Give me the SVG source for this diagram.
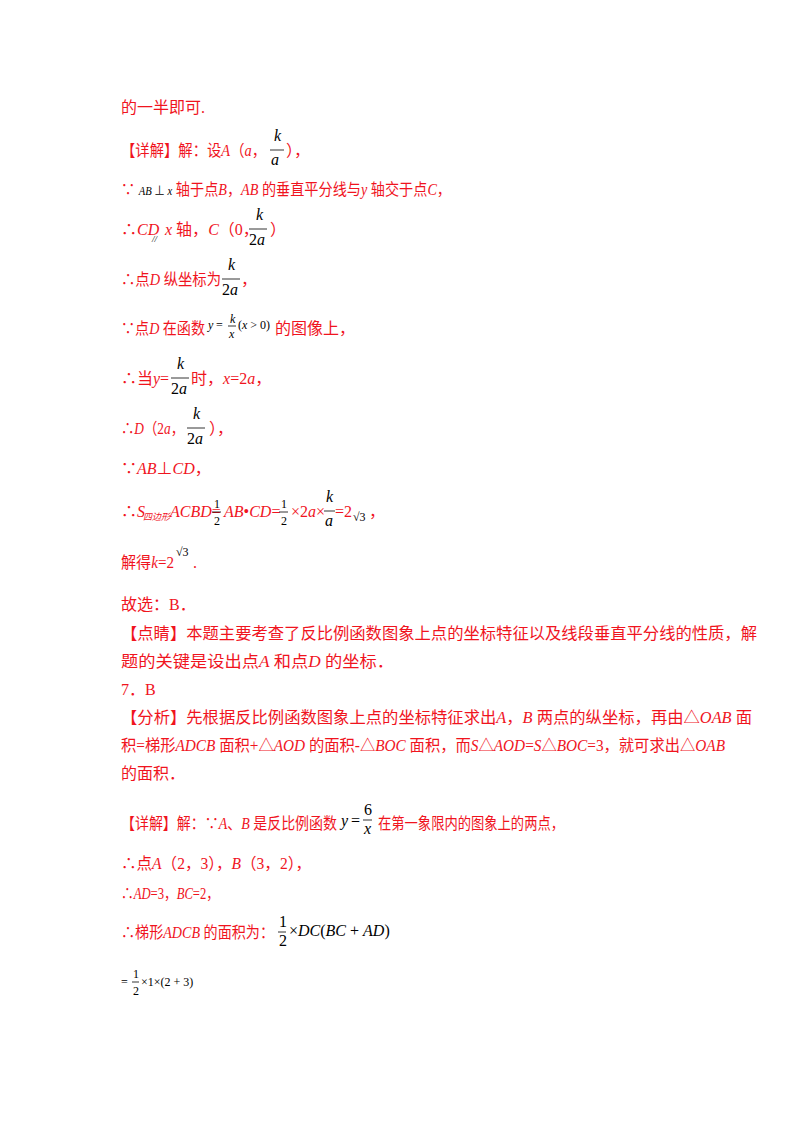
<svg xmlns="http://www.w3.org/2000/svg" width="800" height="1132" viewBox="0 0 800 1132">
<style>
text{font-family:"Liberation Serif","Noto Sans CJK SC",serif;font-size:16px}
.r{fill:#f0141e}
.k{fill:#000}
.i{font-style:italic}
.s{font-size:12px}
.xs{font-size:9px}
line{stroke:#000;stroke-width:0.8}
</style>
<rect width="800" height="1132" fill="#fff"/>
<g class="r">
<text x="121" y="113" class="r">的一半即可.</text>

<text x="121" y="156" class="r" textLength="145" lengthAdjust="spacingAndGlyphs">【详解】解：设<tspan class="i">A</tspan>（<tspan class="i">a</tspan>，</text>
<text x="274" y="141" class="k i">k</text><line x1="270" y1="150" x2="284" y2="150"/><text x="271" y="165" class="k i">a</text>
<text x="286" y="156" class="r">），</text>

<text x="121" y="195" class="r" textLength="330" lengthAdjust="spacingAndGlyphs">∵ <tspan class="k i s">AB</tspan><tspan class="k s"> ⊥ </tspan><tspan class="k i s">x</tspan> 轴于点<tspan class="i">B</tspan>，<tspan class="i">AB</tspan> 的垂直平分线与<tspan class="i">y</tspan> 轴交于点<tspan class="i">C</tspan>，</text>

<text x="121" y="235" class="r">∴<tspan class="i">CD</tspan></text>
<text x="152" y="242" class="k i xs">//</text>
<text x="165" y="235" class="r"><tspan class="i">x</tspan> 轴，<tspan class="i">C</tspan>（0，</text>
<text x="256" y="220" class="k i">k</text><line x1="249" y1="229" x2="267" y2="229"/><text x="249" y="245" class="k">2<tspan class="i">a</tspan></text>
<text x="270" y="235" class="r">）</text>

<text x="121" y="285" class="r" textLength="100" lengthAdjust="spacingAndGlyphs">∴点<tspan class="i">D</tspan> 纵坐标为</text>
<text x="228" y="270" class="k i">k</text><line x1="222" y1="279" x2="240" y2="279"/><text x="222" y="295" class="k">2<tspan class="i">a</tspan></text>
<text x="241" y="285" class="r">，</text>

<text x="121" y="334" class="r" textLength="84" lengthAdjust="spacingAndGlyphs">∵点<tspan class="i">D</tspan> 在函数</text>
<text x="208" y="329" class="k i s">y</text><text x="216" y="329" class="k s">=</text>
<text x="230" y="323" class="k i s">k</text><line x1="228" y1="326" x2="236" y2="326"/><text x="229" y="338" class="k i s">x</text>
<text x="238" y="329" class="k s">(<tspan class="i">x</tspan> &gt; 0)</text>
<text x="275" y="334" class="r">的图像上，</text>

<text x="121" y="384" class="r" textLength="48" lengthAdjust="spacingAndGlyphs">∴当<tspan class="i">y</tspan>=</text>
<text x="177" y="369" class="k i">k</text><line x1="171" y1="378" x2="189" y2="378"/><text x="171" y="394" class="k">2<tspan class="i">a</tspan></text>
<text x="191" y="384" class="r">时，<tspan class="i">x</tspan>=2<tspan class="i">a</tspan>，</text>

<text x="121" y="434" class="r" textLength="63" lengthAdjust="spacingAndGlyphs">∴<tspan class="i">D</tspan>（2<tspan class="i">a</tspan>，</text>
<text x="193" y="419" class="k i">k</text><line x1="187" y1="428" x2="205" y2="428"/><text x="187" y="444" class="k">2<tspan class="i">a</tspan></text>
<text x="209" y="434" class="r">），</text>

<text x="121" y="474" class="r">∵<tspan class="i">AB</tspan>⊥<tspan class="i">CD</tspan>，</text>

<text x="121" y="517" class="r">∴<tspan class="i">S</tspan></text>
<text x="143" y="520" class="r i xs">四边形</text>
<text x="170" y="517" class="r"><tspan class="i">ACBD</tspan>=</text>
<text x="214" y="508" class="k s">1</text><line x1="212" y1="512" x2="221" y2="512"/><text x="214" y="525" class="k s">2</text>
<text x="224" y="517" class="r"><tspan class="i">AB</tspan>•<tspan class="i">CD</tspan>=</text>
<text x="281" y="508" class="k s">1</text><line x1="279" y1="512" x2="288" y2="512"/><text x="281" y="525" class="k s">2</text>
<text x="291" y="517" class="r">×2<tspan class="i">a</tspan>×</text>
<text x="326" y="502" class="k i">k</text><line x1="324" y1="511" x2="335" y2="511"/><text x="325" y="526" class="k i">a</text>
<text x="335" y="517" class="r">=2</text>
<text x="353" y="521" class="k s">√3</text>
<text x="369" y="517" class="r">，</text>

<text x="121" y="568" class="r" textLength="53" lengthAdjust="spacingAndGlyphs">解得<tspan class="i">k</tspan>=2</text>
<text x="176" y="556" class="k s">√3</text>
<text x="193" y="568" class="r">.</text>

<text x="121" y="610" class="r">故选：B．</text>

<text x="121" y="639" class="r" textLength="636" lengthAdjust="spacingAndGlyphs">【点睛】本题主要考查了反比例函数图象上点的坐标特征以及线段垂直平分线的性质，解</text>
<text x="121" y="667" class="r" textLength="273" lengthAdjust="spacingAndGlyphs">题的关键是设出点<tspan class="i">A</tspan> 和点<tspan class="i">D</tspan> 的坐标．</text>

<text x="121" y="695" class="r">7．B</text>

<text x="121" y="723" class="r" textLength="631" lengthAdjust="spacingAndGlyphs">【分析】先根据反比例函数图象上点的坐标特征求出<tspan class="i">A</tspan>，<tspan class="i">B</tspan> 两点的纵坐标，再由△<tspan class="i">OAB</tspan> 面</text>
<text x="121" y="751" class="r" textLength="604" lengthAdjust="spacingAndGlyphs">积=梯形<tspan class="i">ADCB</tspan> 面积+△<tspan class="i">AOD</tspan> 的面积-△<tspan class="i">BOC</tspan> 面积，而<tspan class="i">S</tspan>△<tspan class="i">AOD</tspan>=<tspan class="i">S</tspan>△<tspan class="i">BOC</tspan>=3，就可求出△<tspan class="i">OAB</tspan></text>
<text x="121" y="779" class="r">的面积．</text>

<text x="121" y="829" class="r" textLength="216" lengthAdjust="spacingAndGlyphs">【详解】解：∵<tspan class="i">A</tspan>、<tspan class="i">B</tspan> 是反比例函数</text>
<text x="341" y="826" class="k i">y</text><text x="351" y="826" class="k">=</text>
<text x="364" y="815" class="k">6</text><line x1="363" y1="820" x2="372" y2="820"/><text x="364" y="834" class="k i">x</text>
<text x="378" y="829" class="r" textLength="186" lengthAdjust="spacingAndGlyphs">在第一象限内的图象上的两点，</text>

<text x="121" y="869" class="r" textLength="190" lengthAdjust="spacingAndGlyphs">∴点<tspan class="i">A</tspan>（2，3），<tspan class="i">B</tspan>（3，2），</text>

<text x="121" y="899" class="r" textLength="98" lengthAdjust="spacingAndGlyphs">∴<tspan class="i">AD</tspan>=3，<tspan class="i">BC</tspan>=2，</text>

<text x="121" y="938" class="r" textLength="153" lengthAdjust="spacingAndGlyphs">∴梯形<tspan class="i">ADCB</tspan> 的面积为：</text>
<text x="279" y="927" class="k">1</text><line x1="278" y1="932" x2="286" y2="932"/><text x="279" y="946" class="k">2</text>
<text x="289" y="936" class="k">×<tspan class="i">DC</tspan>(<tspan class="i">BC</tspan> + <tspan class="i">AD</tspan>)</text>

<text x="121" y="986" class="k s">=</text>
<text x="133" y="978" class="k s">1</text><line x1="132" y1="982" x2="139" y2="982"/><text x="133" y="995" class="k s">2</text>
<text x="141" y="986" class="k s">×1×(2 + 3)</text>
</g>
</svg>
